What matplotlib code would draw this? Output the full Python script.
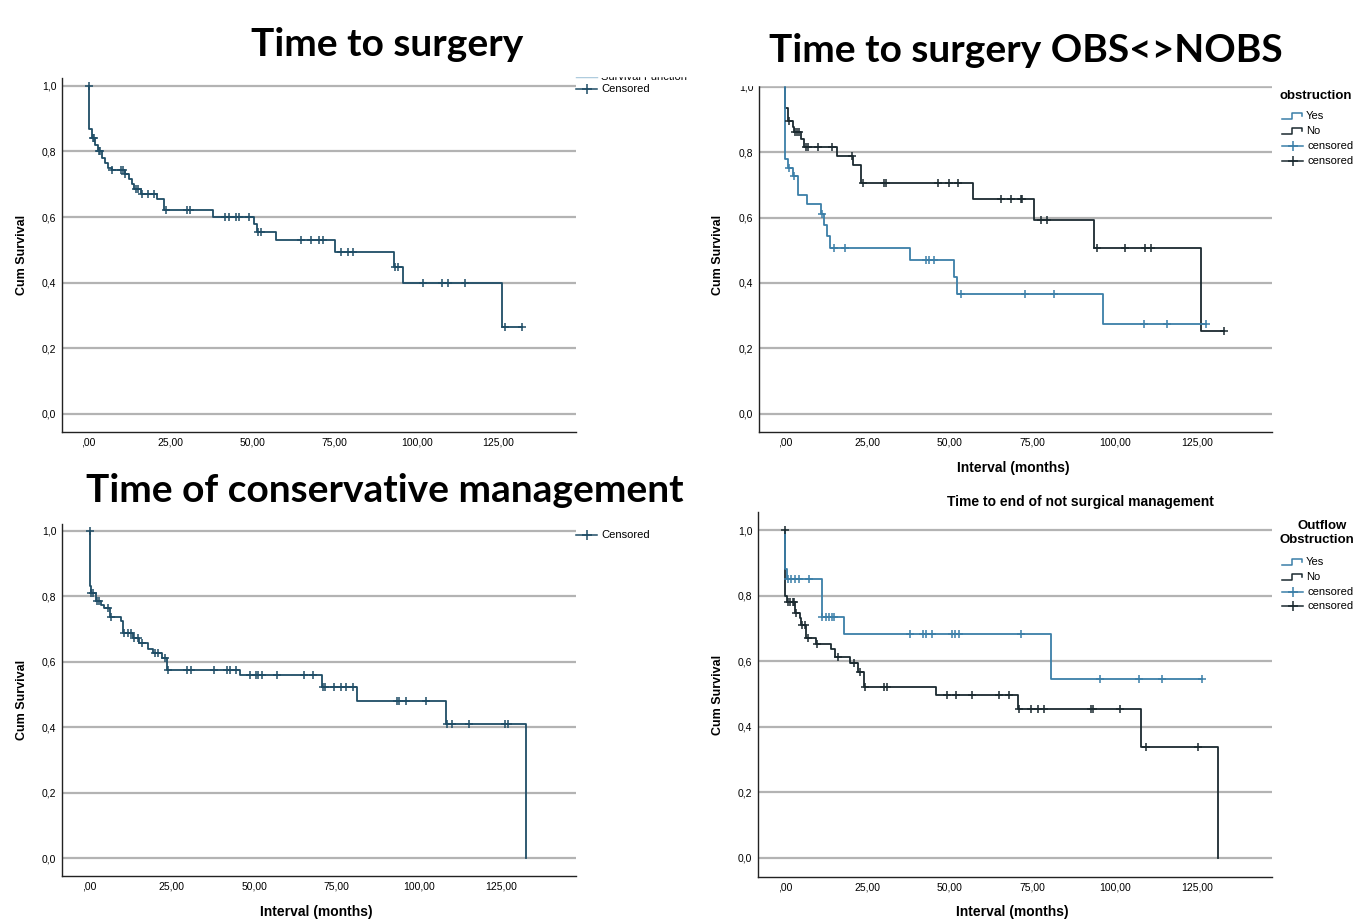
import numpy as np
import matplotlib
matplotlib.use('Agg')
import matplotlib.pyplot as plt
from matplotlib.patches import Rectangle
from matplotlib.lines import Line2D

plt.rcParams['font.family'] = ['Liberation Sans', 'DejaVu Sans']

W, H = 1355, 923

# ---- Time to surgery (all patients)
ts_t = [0, 0, 1.1, 2.0, 3.0, 4.2, 5.0, 6.0, 7.0, 11.0, 12.3, 13.3, 14.0, 16.0, 21.0, 23.0,
        38.0, 50.5, 51.5, 57.0, 75.0, 93.0, 96.0, 126.0, 132.0]
ts_s = [1.0, 0.87, 0.84, 0.82, 0.80, 0.78, 0.765, 0.75, 0.743, 0.731, 0.715, 0.70, 0.685, 0.67,
        0.655, 0.621, 0.60, 0.579, 0.555, 0.53, 0.494, 0.449, 0.40, 0.266, 0.266]
ts_c = [0, 1.2, 1.6, 3.1, 3.5, 7.2, 9.8, 10.5, 11.2, 14.5, 15.2, 16.4, 18.0, 20.0, 23.6, 30.0,
        31.0, 41.7, 42.7, 44.8, 45.8, 48.8, 51.6, 52.7, 64.9, 67.9, 70.4, 71.4, 76.9, 79.0, 80.7,
        93.5, 94.3, 102.0, 107.8, 109.7, 114.9, 126.9, 132.0]

# ---- Time to surgery by obstruction
obs_yes_t = [0, 0, 1.0, 2.5, 3.8, 6.8, 10.9, 11.9, 12.8, 13.7, 38.0, 51.2, 52.0, 96.5, 127.5]
obs_yes_s = [1.0, 0.78, 0.752, 0.727, 0.67, 0.64, 0.61, 0.577, 0.545, 0.508, 0.47, 0.417, 0.365,
             0.275, 0.275]
obs_yes_c = [1.1, 2.8, 11.1, 14.7, 18.2, 42.6, 43.5, 45.2, 53.3, 72.6, 81.6, 108.9, 115.9, 127.5]

obs_no_t = [0, 0, 1.0, 2.3, 2.8, 4.9, 5.8, 15.7, 20.7, 23.0, 57.0, 75.5, 93.5, 126.0, 133.0]
obs_no_s = [1.0, 0.935, 0.895, 0.875, 0.86, 0.84, 0.815, 0.788, 0.76, 0.704, 0.658, 0.592, 0.508,
            0.254, 0.254]
obs_no_c = [1.1, 2.9, 3.6, 4.2, 6.4, 7.0, 10.0, 14.1, 20.2, 23.7, 30.0, 30.7, 46.4, 49.6, 52.4,
            65.6, 68.4, 71.4, 71.9, 77.5, 79.5, 94.6, 103.0, 109.0, 111.0, 133.0]

# ---- Time of conservative management
cm_t = [0, 0, 0.3, 1.8, 3.3, 4.5, 6.1, 9.5, 10.2, 13.2, 15.1, 17.7, 19.4, 22.1, 23.6, 45.7, 70.7,
        81.2, 108.2, 132.5]
cm_s = [1.0, 0.832, 0.81, 0.787, 0.774, 0.764, 0.738, 0.723, 0.687, 0.672, 0.656, 0.639, 0.626,
        0.61, 0.576, 0.558, 0.524, 0.481, 0.41, 0.0]
cm_c = [0, 0.5, 1.1, 2.3, 2.9, 5.5, 6.6, 10.5, 11.6, 12.6, 13.6, 14.6, 16.0, 20.0, 20.7, 22.8, 23.8,
        29.7, 30.7, 37.9, 41.6, 42.6, 44.6, 48.7, 50.5, 51.2, 52.3, 56.9, 65.1, 67.9, 71.0, 71.5,
        74.4, 76.4, 78.0, 80.1, 93.4, 94.1, 96.2, 102.3, 108.5, 110.2, 115.3, 126.2, 127.2]

# ---- Time to end of not surgical management by outflow obstruction
ns_yes_t = [0, 0, 0.6, 11.1, 18.0, 80.7, 126.3]
ns_yes_s = [1.0, 0.88, 0.849, 0.734, 0.682, 0.545, 0.545]
ns_yes_c = [0.9, 1.9, 3.1, 4.1, 7.2, 11.3, 12.3, 13.2, 14.1, 14.8, 37.9, 41.7, 42.7, 44.6, 50.6,
            51.5, 52.8, 71.6, 95.5, 107.4, 114.3, 126.3]

ns_no_t = [0, 0, 0.6, 3.0, 4.4, 4.8, 6.5, 9.4, 13.8, 15.1, 19.8, 22.0, 23.9, 45.9, 70.6, 107.8, 131.3]
ns_no_s = [1.0, 0.80, 0.781, 0.748, 0.732, 0.71, 0.671, 0.651, 0.636, 0.613, 0.593, 0.567, 0.522,
           0.495, 0.454, 0.339, 0.0]
ns_no_c = [0, 0.9, 1.5, 2.3, 2.8, 3.4, 5.0, 5.9, 6.9, 9.8, 16.0, 21.0, 22.6, 24.1, 29.9, 31.0, 49.0,
           51.8, 56.8, 64.7, 67.8, 70.8, 74.7, 76.6, 78.5, 92.7, 93.2, 101.5, 109.3, 125.3]

xticks = [0, 25, 50, 75, 100, 125]
xticklabels = [',00', '25,00', '50,00', '75,00', '100,00', '125,00']
yticks = [0, 0.2, 0.4, 0.6, 0.8, 1.0]
yticklabels = ['0,0', '0,2', '0,4', '0,6', '0,8', '1,0']

SINGLE = '#1f4d66'
YES = '#3b7fa8'
NO = '#1b2a30'
GRID = '#b3b3b3'


def censor_y(t, s, c):
    t = np.asarray(t)
    s = np.asarray(s)
    i = np.clip(np.searchsorted(t, c, side='left') - 1, 0, None)
    return s[i]


def km(ax, t, s, c, color):
    ax.step(t, s, where='post', color=color, lw=1.3, zorder=3)
    ax.plot(c, censor_y(t, s, c), ls='none', marker='+', ms=6, mew=1.1, color=color, zorder=4)


fig = plt.figure(figsize=(W / 100, H / 100), dpi=100)


def px_axes(l, t, r, b):
    return fig.add_axes([l / W, 1 - b / H, (r - l) / W, (b - t) / H])


def setup(ax, xlim, ylim, l, t, r, b, xlabel=True, ylab_x=22, xlab_y=None):
    ax.set_xlim(xlim)
    ax.set_ylim(ylim)
    ax.set_xticks(xticks)
    ax.set_xticklabels(xticklabels)
    ax.set_yticks(yticks)
    ax.set_yticklabels(yticklabels)
    ax.grid(axis='y', color=GRID, lw=1.6)
    ax.set_axisbelow(True)
    for sp in ['top', 'right']:
        ax.spines[sp].set_visible(False)
    for sp in ['left', 'bottom']:
        ax.spines[sp].set_linewidth(1.0)
        ax.spines[sp].set_color('#222222')
    ax.tick_params(length=0, labelsize=7.5, pad=4)
    ax.set_ylabel('Cum Survival', fontsize=9, fontweight='bold')
    ax.yaxis.set_label_coords(-(l - ylab_x) / (r - l), 0.5)
    ax.yaxis.label.set_va('center')
    if xlabel:
        ax.set_xlabel('Interval (months)', fontsize=10, fontweight='bold')
        ax.xaxis.set_label_coords(0.495, -(xlab_y - b) / (b - t))
        ax.xaxis.label.set_va('center')


# top-left
ax1 = px_axes(62, 78, 576, 432)
setup(ax1, (-8.1, 148.6), (-0.055, 1.024), 62, 78, 576, 432, xlabel=False)
km(ax1, ts_t, ts_s, ts_c, SINGLE)

# top-right
ax2 = px_axes(759, 78, 1272, 432)
setup(ax2, (-7.9, 147.6), (-0.055, 1.026), 759, 78, 1272, 432, ylab_x=718, xlab_y=468)
km(ax2, obs_no_t, obs_no_s, obs_no_c, NO)
km(ax2, obs_yes_t, obs_yes_s, obs_yes_c, YES)

# bottom-left
ax3 = px_axes(62, 524, 576, 876)
setup(ax3, (-8.4, 147.8), (-0.055, 1.021), 62, 524, 576, 876, xlab_y=912)
km(ax3, cm_t, cm_s, cm_c, SINGLE)

# bottom-right
ax4 = px_axes(758, 512, 1272, 877)
setup(ax4, (-8.2, 147.6), (-0.059, 1.055), 758, 512, 1272, 877, ylab_x=718, xlab_y=912)
km(ax4, ns_no_t, ns_no_s, ns_no_c, NO)
km(ax4, ns_yes_t, ns_yes_s, ns_yes_c, YES)

# overlay in pixel coordinates for titles, legends and crop edges
ov = fig.add_axes([0, 0, 1, 1])
ov.set_xlim(0, W)
ov.set_ylim(H, 0)
ov.axis('off')
ov.set_zorder(10)
ov.patch.set_visible(False)

ov.add_patch(Rectangle((0, 0), 700, 76, color='white', zorder=1))
ov.add_patch(Rectangle((700, 0), 655, 85, color='white', zorder=1))

tfont = dict(family=['Lato', 'DejaVu Sans'], fontweight='bold', fontsize=28, ha='center',
             va='center', zorder=5)
ov.text(387, 44, 'Time to surgery', **tfont)
ov.text(1026, 51, 'Time to surgery OBS<>NOBS', **tfont)
ov.text(385, 490, 'Time of conservative management', **tfont)
ov.text(1080, 502, 'Time to end of not surgical management', fontsize=10, fontweight='bold',
        ha='center', va='center', zorder=5)


def leg_censor(x, y, color, label):
    ov.add_line(Line2D([x, x + 21], [y, y], color=color, lw=1.1, zorder=3))
    ov.plot([x + 10.5], [y], marker='+', ms=7, mew=1.1, color=color, zorder=3)
    ov.text(x + 25, y, label, fontsize=8, va='center', ha='left', zorder=3)


def leg_step(x, y, color, label):
    ov.add_line(Line2D([x, x + 10, x + 10, x + 20, x + 20], [y + 3, y + 3, y - 3, y - 3, y],
                       color=color, lw=1.1, zorder=3))
    ov.text(x + 24, y, label, fontsize=8, va='center', ha='left', zorder=3)


# top-left legend (first entry cut by the crop)
ov.add_line(Line2D([576, 597], [77, 77], color='#9cc0d6', lw=1.0, zorder=0.5))
ov.text(601, 77.5, 'Survival Function', fontsize=8, va='center', ha='left', zorder=0.5)
leg_censor(576, 89, SINGLE, 'Censored')

# bottom-left legend
leg_censor(576, 535, SINGLE, 'Censored')

# top-right legend
ov.text(1279, 96, 'obstruction', fontsize=9.5, fontweight='bold', va='center', ha='left', zorder=3)
leg_step(1282, 116, YES, 'Yes')
leg_step(1282, 131, NO, 'No')
leg_censor(1282, 146, YES, 'censored')
leg_censor(1282, 161, NO, 'censored')

# bottom-right legend
ov.text(1322, 526, 'Outflow', fontsize=9.5, fontweight='bold', va='center', ha='center', zorder=3)
ov.text(1280, 540, 'Obstruction', fontsize=9.5, fontweight='bold', va='center', ha='left', zorder=3)
leg_step(1282, 562, YES, 'Yes')
leg_step(1282, 577, NO, 'No')
leg_censor(1282, 592, YES, 'censored')
leg_censor(1282, 606, NO, 'censored')

fig.savefig('out.png', dpi=100, facecolor='white')
